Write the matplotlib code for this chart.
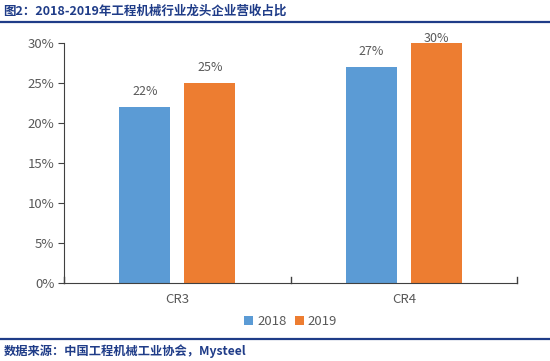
import numpy as np
import matplotlib
matplotlib.use("Agg")
import matplotlib.pyplot as plt
from matplotlib.lines import Line2D

plt.rcParams['font.family'] = ['Noto Sans CJK SC', 'DejaVu Sans']

categories = ["CR3", "CR4"]
years = ["2018", "2019"]
vals_2018 = [22, 27]
vals_2019 = [25, 30]
colors = ["#5B9BD5", "#ED7D31"]
txt = "#595959"
navy = "#1F3C88"

fig = plt.figure(figsize=(5.5, 3.61), dpi=100)
ax = fig.add_axes([0.1164, 0.216, 0.824, 0.665])

x = np.arange(len(categories))
w = 0.225
off = 0.1435
b1 = ax.bar(x - off, vals_2018, w, color=colors[0], label=years[0])
b2 = ax.bar(x + off, vals_2019, w, color=colors[1], label=years[1])
for bars, vals in ((b1, vals_2018), (b2, vals_2019)):
    for r, v in zip(bars, vals):
        # labels get pushed inside the plot area near the top, like excel
        ax.text(r.get_x() + r.get_width() / 2, min(v + 1.9, 30.6), f"{v}%",
                ha="center", va="center", fontsize=9, color=txt, clip_on=False)

ax.set_xlim(-0.5, 1.5)
ax.set_ylim(0, 30)
ax.set_yticks(np.arange(0, 31, 5))
ax.set_yticklabels([f"{t}%" for t in range(0, 31, 5)], fontsize=9.5, color=txt)
ax.set_xticks(x)
ax.set_xticklabels(categories, fontsize=9.5, color=txt)
ax.tick_params(axis="x", length=0, pad=7)
ax.tick_params(axis="y", length=4, color="#404040", pad=3)
# category dividers on x axis
for xd in (-0.5, 0.5, 1.5):
    ax.add_line(Line2D([xd, xd], [0, 0.7], color="#404040", lw=1, clip_on=False))
for s in ("top", "right"):
    ax.spines[s].set_visible(False)
ax.spines["left"].set_color("#404040")
ax.spines["bottom"].set_color("#404040")

ax.legend(loc="upper center", bbox_to_anchor=(0.5, -0.085), ncol=2, frameon=False,
          fontsize=9.5, handlelength=0.7, handleheight=0.7, handletextpad=0.3,
          columnspacing=0.6, labelcolor=txt)

fig.text(0.006, 0.968, "图2：2018-2019年工程机械行业龙头企业营收占比", fontsize=9,
         fontweight="bold", color=navy, va="center", ha="left")
fig.add_artist(Line2D([0, 1], [0.94, 0.94], color=navy, lw=1.6))
fig.add_artist(Line2D([0, 1], [0.061, 0.061], color=navy, lw=1.6))
fig.text(0.006, 0.027, "数据来源：中国工程机械工业协会，Mysteel", fontsize=8.8,
         fontweight="bold", color=navy, va="center", ha="left")

fig.savefig("out.png", dpi=100)
